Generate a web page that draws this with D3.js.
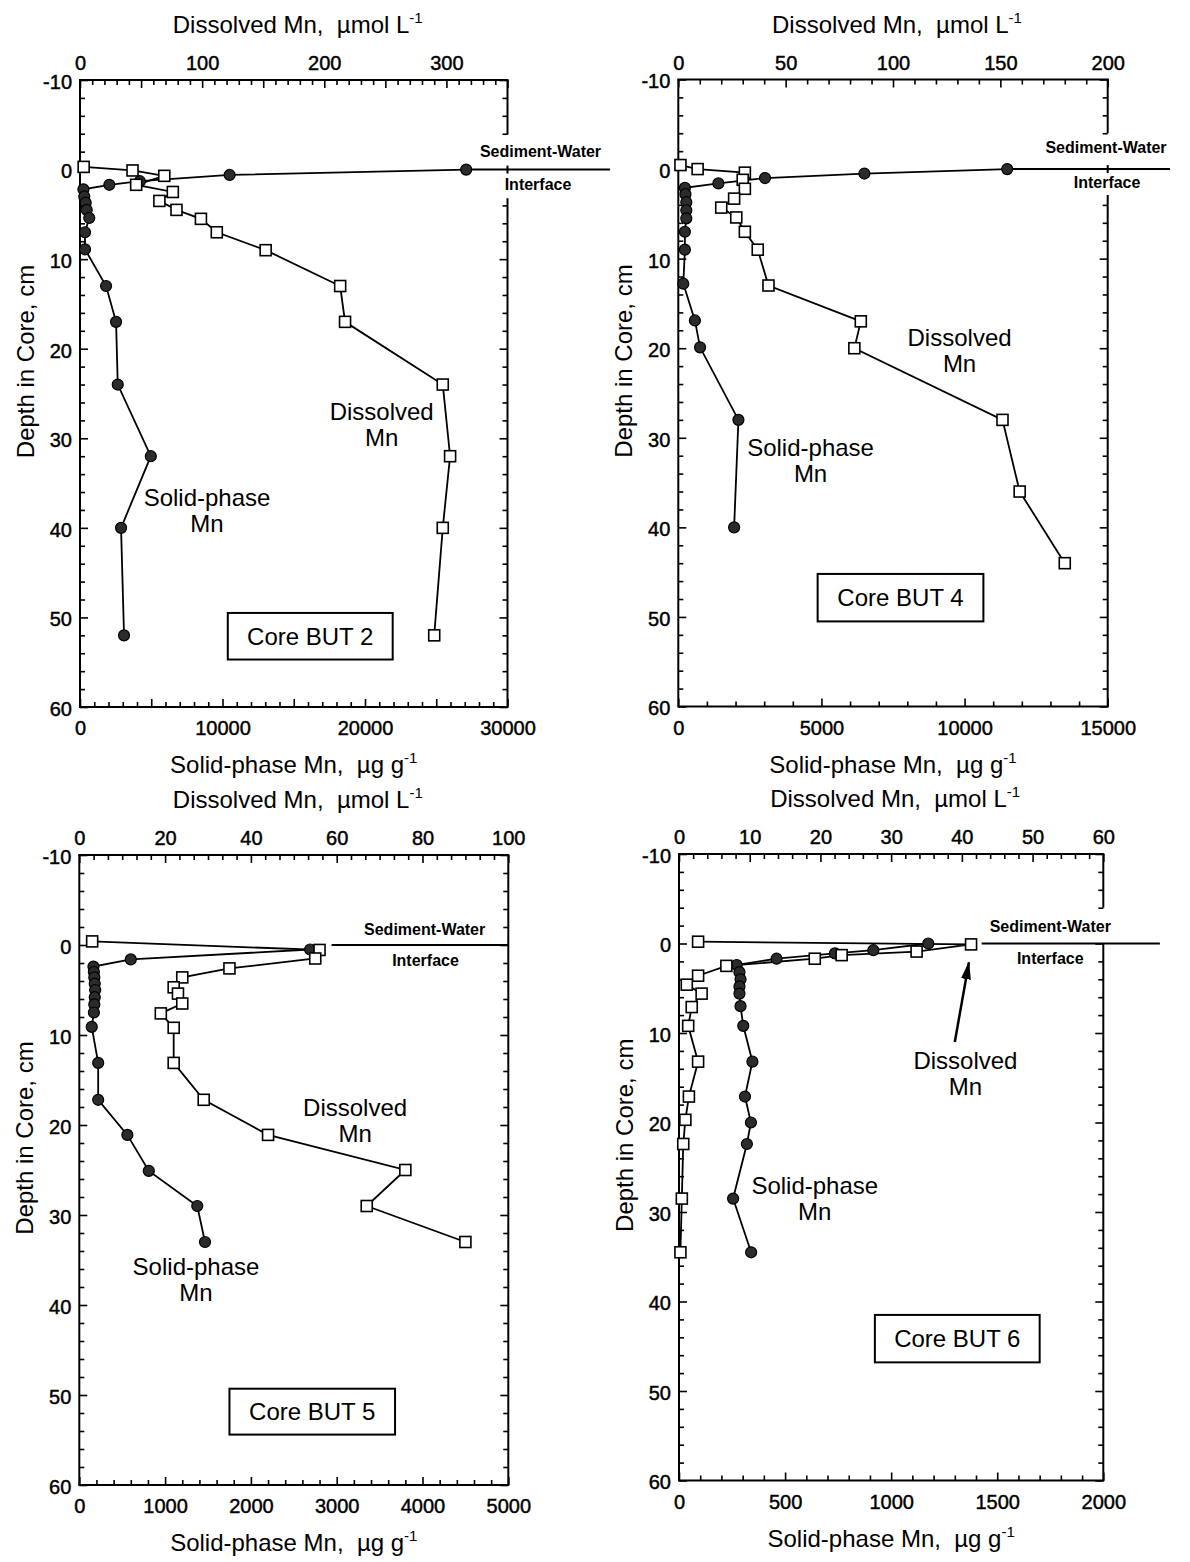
<!DOCTYPE html>
<html><head><meta charset="utf-8">
<script src="https://cdn.jsdelivr.net/npm/d3@7"></script>
<style>
body{margin:0;background:#fff}
svg{display:block;font-family:"Liberation Sans",Arial,Helvetica,sans-serif}
text{white-space:pre}
</style></head><body>
<svg id="c" width="1190" height="1562"></svg>
<script>
// ---------------- DATA ----------------
const depthDomain = [-10, 60];
const depthTickLabels = [-10, 0, 10, 20, 30, 40, 50, 60];

const but2TopTicks = [0, 100, 200, 300];
const but2BottomTicks = [0, 10000, 20000, 30000];
const but4TopTicks = [0, 50, 100, 150, 200];
const but4BottomTicks = [0, 5000, 10000, 15000];
const but5TopTicks = [0, 20, 40, 60, 80, 100];
const but5BottomTicks = [0, 1000, 2000, 3000, 4000, 5000];
const but6TopTicks = [0, 10, 20, 30, 40, 50, 60];
const but6BottomTicks = [0, 500, 1000, 1500, 2000];

// Core BUT 2
const but2DissDepth = [-0.3, 0.1, 0.7, 1.7, 2.5, 3.5, 4.5, 5.5, 7.0, 9.0, 13.0, 17.0, 24, 32, 40, 52];
const but2DissMn    = [3, 43, 69, 46, 76, 65, 79, 99, 112, 152, 213, 217, 297, 303, 297, 290];
const but2SolidDepth = [0, 0.6, 1.3, 1.7, 2.2, 3.0, 3.7, 4.5, 5.4, 7.0, 8.9, 13, 17, 24, 32, 40, 52];
const but2SolidMn    = [27100, 10500, 4200, 2060, 240, 300, 400, 470, 650, 350, 350, 1830, 2530, 2650, 4970, 2880, 3090];

// Core BUT 4
const but4DissDepth = [-0.45, 0, 0.4, 1.2, 2.2, 3.3, 4.3, 5.4, 7.0, 9.0, 13.0, 17.0, 20.0, 28, 36, 44];
const but4DissMn    = [1, 9, 31, 30, 31, 26, 20, 27, 31, 37, 42, 85, 82, 151, 159, 180];
const but4SolidDepth = [0, 0.5, 1.0, 1.6, 2.1, 2.8, 3.7, 4.6, 5.5, 7.0, 9.0, 12.8, 16.9, 19.9, 28, 40];
const but4SolidMn    = [11490, 6500, 3030, 1400, 230, 250, 280, 280, 280, 230, 230, 175, 580, 760, 2100, 1950];

// Core BUT 5
const but5DissDepth = [-0.4, 0.55, 1.5, 2.6, 3.6, 4.7, 5.4, 6.5, 7.6, 9.2, 13.1, 17.2, 21.1, 25, 29, 33];
const but5DissMn    = [3, 56, 55, 35, 24, 22, 23, 24, 19, 22, 22, 29, 44, 76, 67, 90];
const but5SolidDepth = [0.5, 1.6, 2.4, 3.0, 3.6, 4.3, 5.0, 5.8, 6.6, 7.5, 9.1, 13.1, 17.2, 21.1, 25.1, 29, 33];
const but5SolidMn    = [2690, 600, 165, 170, 175, 180, 185, 180, 175, 170, 145, 220, 220, 560, 810, 1375, 1465];

// Core BUT 6
const but6DissDepth = [-0.2, 0.1, 0.9, 1.3, 1.7, 2.5, 3.6, 4.6, 5.6, 7.1, 9.2, 13.2, 17.1, 19.7, 22.4, 28.5, 34.5];
const but6DissMn    = [2.7, 41.3, 33.6, 23.0, 19.2, 6.7, 2.7, 1.1, 3.2, 1.8, 1.3, 2.7, 1.4, 0.9, 0.6, 0.4, 0.2];
const but6SolidDepth = [0, 0.75, 1.1, 1.7, 2.4, 3.2, 4.0, 4.8, 5.6, 7.0, 9.2, 13.2, 17.1, 20.0, 22.4, 28.5, 34.5];
const but6SolidMn    = [1175, 916, 735, 460, 272, 285, 290, 285, 285, 290, 303, 346, 311, 339, 320, 255, 340];

// ---------------- LAYOUT ----------------
const FONT = '"Liberation Sans", Arial, Helvetica, sans-serif';
const svg = d3.select("#c");
const defs = svg.append("defs");
defs.append("marker").attr("id","arr").attr("viewBox","0 0 18 10")
  .attr("refX",17).attr("refY",5).attr("markerWidth",18).attr("markerHeight",10)
  .attr("markerUnits","userSpaceOnUse").attr("orient","auto")
  .append("path").attr("d","M0,0 L18,5 L0,10 Z").attr("fill","#000");

const panels = [
  { name:"Core BUT 2", box:{L:80,R:507.5,T:80,B:707},
    topDomain:[0,350], topLabels:but2TopTicks, topLong:50, topMinor:10,
    botDomain:[0,30000], botLabels:but2BottomTicks, botLong:5000, botMinor:1000,
    diss:[but2DissDepth,but2DissMn], solid:[but2SolidDepth,but2SolidMn],
    gap:[-3.9,3.2], gapTick:true, iface:[316,434], ifaceLab:[377,-2.0,375,1.7],
    dissLab:[247,27.0], solidLab:[104,36.6], coreBox:[121,256,49.5,54.7] },
  { name:"Core BUT 4", box:{L:678.3,R:1107.7,T:79.5,B:706.5},
    topDomain:[0,200], topLabels:but4TopTicks, topLong:50, topMinor:10,
    botDomain:[0,15000], botLabels:but4BottomTicks, botLong:5000, botMinor:1000,
    diss:[but4DissDepth,but4DissMn], solid:[but4SolidDepth,but4SolidMn],
    gap:[-4.0,2.9], gapTick:true, iface:[153,229], ifaceLab:[199.2,-2.4,199.7,1.5],
    dissLab:[131,18.8], solidLab:[61.6,31.1], coreBox:[64.9,142.1,45.2,50.5] },
  { name:"Core BUT 5", box:{L:79.3,R:508.3,T:855,B:1485},
    topDomain:[0,100], topLabels:but5TopTicks, topLong:20, topMinor:20/6,
    botDomain:[0,5000], botLabels:but5BottomTicks, botLong:1000, botMinor:200,
    diss:[but5DissDepth,but5DissMn], solid:[but5SolidDepth,but5SolidMn],
    gap:null, gapTick:false, iface:[58.8,100], ifaceLab:[80.5,-1.7,80.7,1.7],
    dissLab:[64.3,18.1], solidLab:[27.2,35.7], coreBox:[35.0,73.6,49.3,54.4] },
  { name:"Core BUT 6", box:{L:679,R:1103.3,T:854,B:1480.5},
    topDomain:[0,60], topLabels:but6TopTicks, topLong:10, topMinor:2,
    botDomain:[0,2000], botLabels:but6BottomTicks, botLong:500, botMinor:100,
    diss:[but6DissDepth,but6DissMn], solid:[but6SolidDepth,but6SolidMn],
    gap:[-4.0,0], gapTick:false, iface:[42.8,68], ifaceLab:[52.5,-1.9,52.5,1.65],
    dissLab:[40.5,13.1], solidLab:[19.2,27.0], coreBox:[27.7,51.0,41.5,46.8],
    arrow:[39.0,11.0,41.0,2.1] }
];

function stepValues(domain, step) {
  const n = Math.round((domain[1]-domain[0])/step);
  return d3.range(n+1).map(i => domain[0] + i*step);
}
const near = (a,b) => Math.abs(a-b) < 1e-6;

function addAxis(g, gen, scale, tr, values, size, fmt, pad) {
  const a = gen(scale).tickValues(values).tickSize(size).tickPadding(pad).tickFormat(fmt);
  const ag = g.append("g").attr("transform", tr).call(a);
  ag.select(".domain").remove();
  ag.attr("font-family", FONT).attr("font-size", 20);
  ag.selectAll("line").attr("stroke","#000").attr("stroke-width",1.6);
  ag.selectAll("text").attr("fill","#000").attr("stroke","#000").attr("stroke-width",0.45);
  return ag;
}

function drawPanel(p) {
  const {L,R,T,B} = p.box;
  const xTop = d3.scaleLinear().domain(p.topDomain).range([L,R]);
  const xBot = d3.scaleLinear().domain(p.botDomain).range([L,R]);
  const y = d3.scaleLinear().domain(depthDomain).range([T,B]);
  const g = svg.append("g");

  // frame
  const fr = g.append("g").attr("stroke","#000").attr("stroke-width",2).attr("fill","none");
  const seg = (x1,y1,x2,y2) => fr.append("line").attr("x1",x1).attr("y1",y1).attr("x2",x2).attr("y2",y2);
  seg(L-1,T,R+1,T); seg(L-1,B,R+1,B); seg(L,T,L,B);
  if (p.gap) {
    seg(R,T,R,y(p.gap[0])); seg(R,y(p.gap[1]),R,B);
    if (p.gapTick) seg(R,y(0)-4,R,y(0)+4);
  } else seg(R,T,R,B);

  const labFmt = labels => d => labels.some(v => near(v,d)) ? String(d) : "";
  const none = () => "";

  // top axis
  const topLong = stepValues(p.topDomain, p.topLong);
  const topMinor = stepValues(p.topDomain, p.topMinor).filter(v => !topLong.some(w => near(v,w)));
  addAxis(g, d3.axisTop, xTop, `translate(0,${T})`, topMinor, -5, none, 10);
  addAxis(g, d3.axisTop, xTop, `translate(0,${T})`, topLong, -8, labFmt(p.topLabels), 10);
  // bottom axis
  const botLong = stepValues(p.botDomain, p.botLong);
  const botMinor = stepValues(p.botDomain, p.botMinor).filter(v => !botLong.some(w => near(v,w)));
  addAxis(g, d3.axisBottom, xBot, `translate(0,${B})`, botMinor, -5, none, 14);
  addAxis(g, d3.axisBottom, xBot, `translate(0,${B})`, botLong, -8, labFmt(p.botLabels), 14);
  // left axis
  const dLong = stepValues(depthDomain, 10);
  const dMinor = stepValues(depthDomain, 2).filter(v => !dLong.some(w => near(v,w)));
  addAxis(g, d3.axisLeft, y, `translate(${L},0)`, dMinor, -5, none, 8);
  const la = addAxis(g, d3.axisLeft, y, `translate(${L},0)`, dLong, -8, labFmt(depthTickLabels), 8);
  la.selectAll("text").attr("dy","0.42em");
  // right axis (no labels, with gap)
  const outGap = v => !p.gap || v <= p.gap[0] || v >= p.gap[1];
  addAxis(g, d3.axisRight, y, `translate(${R},0)`, dMinor.filter(outGap), -5, none, 8);
  addAxis(g, d3.axisRight, y, `translate(${R},0)`, dLong.filter(outGap), -8, none, 8);

  // sediment-water interface
  g.append("line").attr("x1",xTop(p.iface[0])).attr("x2",xTop(p.iface[1]))
    .attr("y1",y(0)).attr("y2",y(0)).attr("stroke","#000").attr("stroke-width",2);
  g.append("text").attr("x",xTop(p.ifaceLab[0])).attr("y",y(p.ifaceLab[1]))
    .attr("text-anchor","middle").attr("dominant-baseline","central")
    .attr("font-size",16).attr("font-weight","bold").attr("font-family",FONT).text("Sediment-Water");
  g.append("text").attr("x",xTop(p.ifaceLab[2])).attr("y",y(p.ifaceLab[3]))
    .attr("text-anchor","middle").attr("dominant-baseline","central")
    .attr("font-size",16).attr("font-weight","bold").attr("font-family",FONT).text("Interface");

  // series
  const solid = d3.zip(p.solid[0], p.solid[1]);
  const diss = d3.zip(p.diss[0], p.diss[1]);
  const lineGen = xs => d3.line().x(d => xs(d[1])).y(d => y(d[0]));
  g.append("path").datum(solid).attr("d", lineGen(xBot))
    .attr("fill","none").attr("stroke","#000").attr("stroke-width",1.8);
  g.append("path").datum(diss).attr("d", lineGen(xTop))
    .attr("fill","none").attr("stroke","#000").attr("stroke-width",1.8);
  g.append("g").selectAll("circle").data(solid).join("circle")
    .attr("cx", d => xBot(d[1])).attr("cy", d => y(d[0])).attr("r",5.5)
    .attr("fill","#2b2b2b").attr("stroke","#000").attr("stroke-width",1.2);
  g.append("g").selectAll("rect").data(diss).join("rect")
    .attr("x", d => xTop(d[1]) - 5.5).attr("y", d => y(d[0]) - 5.5)
    .attr("width",11).attr("height",11)
    .attr("fill","#fff").attr("stroke","#000").attr("stroke-width",1.6);

  // labels
  const multi = (v, d, lines) => {
    lines.forEach((s,i) => {
      g.append("text").attr("x", xTop(v)).attr("y", y(d) + i*26)
        .attr("text-anchor","middle").attr("dominant-baseline","central")
        .attr("font-size",24).attr("font-family",FONT).text(s);
    });
  };
  multi(p.dissLab[0], p.dissLab[1], ["Dissolved","Mn"]);
  multi(p.solidLab[0], p.solidLab[1], ["Solid-phase","Mn"]);

  // core box
  const cb = p.coreBox;
  g.append("rect").attr("x",xTop(cb[0])).attr("y",y(cb[2]))
    .attr("width",xTop(cb[1])-xTop(cb[0])).attr("height",y(cb[3])-y(cb[2]))
    .attr("fill","none").attr("stroke","#000").attr("stroke-width",2);
  g.append("text").attr("x",(xTop(cb[0])+xTop(cb[1]))/2).attr("y",(y(cb[2])+y(cb[3]))/2)
    .attr("text-anchor","middle").attr("dominant-baseline","central")
    .attr("font-size",24).attr("font-family",FONT).text(p.name);

  if (p.arrow) {
    g.append("line").attr("x1",xTop(p.arrow[0])).attr("y1",y(p.arrow[1]))
      .attr("x2",xTop(p.arrow[2])).attr("y2",y(p.arrow[3]))
      .attr("stroke","#000").attr("stroke-width",2.5).attr("marker-end","url(#arr)");
  }

  // axis titles
  const tt = g.append("text").attr("x",(L+R)/2 + 4).attr("y",T-47)
    .attr("text-anchor","middle").attr("font-size",24).attr("font-family",FONT);
  tt.append("tspan").text("Dissolved Mn,  \u00b5mol L");
  tt.append("tspan").attr("dy",-10).attr("font-size",15).text("-1");

  const bt = g.append("text").attr("x",(L+R)/2).attr("y",B+66)
    .attr("text-anchor","middle").attr("font-size",24).attr("font-family",FONT);
  bt.append("tspan").text("Solid-phase Mn,  \u00b5g g");
  bt.append("tspan").attr("dy",-10).attr("font-size",15).text("-1");

  g.append("text").attr("transform",`translate(${L-55},${(T+B)/2 - 32}) rotate(-90)`)
    .attr("text-anchor","middle").attr("dominant-baseline","central")
    .attr("font-size",24).attr("font-family",FONT).text("Depth in Core, cm");
}

panels.forEach(drawPanel);
</script></body></html>
